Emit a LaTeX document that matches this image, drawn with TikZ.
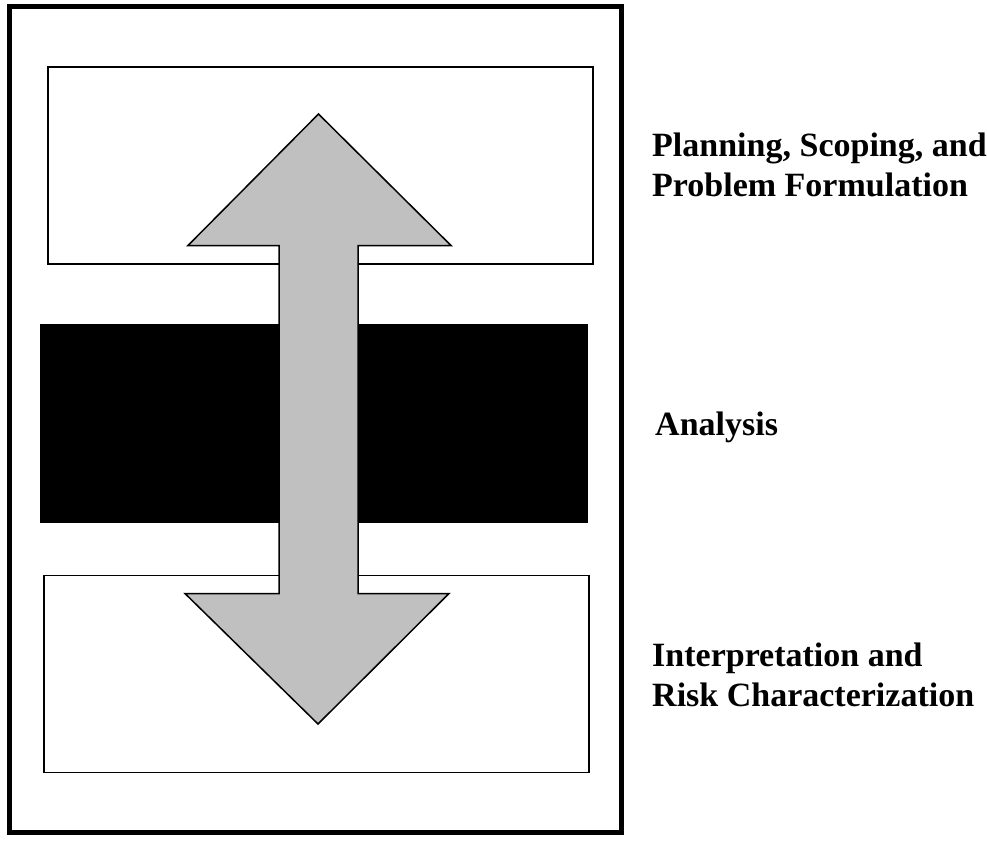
\documentclass[tikz,border=0pt]{standalone}
\usepackage{fontspec}
\setmainfont{Liberation Serif}
\begin{document}
\begin{tikzpicture}[x=1pt,y=-1pt,
  frame/.style={draw=black,line width=5pt},
  stagebox/.style={draw=black,line width=1.8pt,fill=white,inner sep=0pt,
    minimum width=545pt,minimum height=197pt},
  darkbox/.style={draw=black,line width=1pt,fill=black,inner sep=0pt,
    minimum width=546.5pt,minimum height=198pt},
  flow/.style={draw=black,line width=1.5pt,fill=arrowgrey,line join=miter},
  stagelabel/.style={anchor=base west,inner sep=0pt,font=\fontsize{34}{40}\selectfont\bfseries}]
\definecolor{arrowgrey}{HTML}{C0C0C0}
\useasboundingbox (0,0) rectangle (987,840);
% outer frame
\draw[frame] (9.5,6.5) rectangle (621.5,832);
% three stage bands
\node[stagebox] (planband) at (320.5,165.5) {};
\node[darkbox] (analband) at (313.75,423) {};
\node[stagebox] (riskband) at (316.5,674) {};
% double-headed arrow through the bands
\path[flow] (318.5,114) -- (451,245.5) -- (358,245.5) -- (358,593.5)
  -- (449,593.5) -- (318,724) -- (185,593.5) -- (279,593.5)
  -- (279,245.5) -- (188,245.5) -- cycle;
% labels
\node[stagelabel] (plan1) at (652,156) {Planning, Scoping, and};
\node[stagelabel] (plan2) at (652,196) {Problem Formulation};
\node[stagelabel] (anal) at (655,435) {Analysis};
\node[stagelabel] (risk1) at (652,666) {Interpretation and};
\node[stagelabel] (risk2) at (652,706) {Risk Characterization};
\end{tikzpicture}
\end{document}
